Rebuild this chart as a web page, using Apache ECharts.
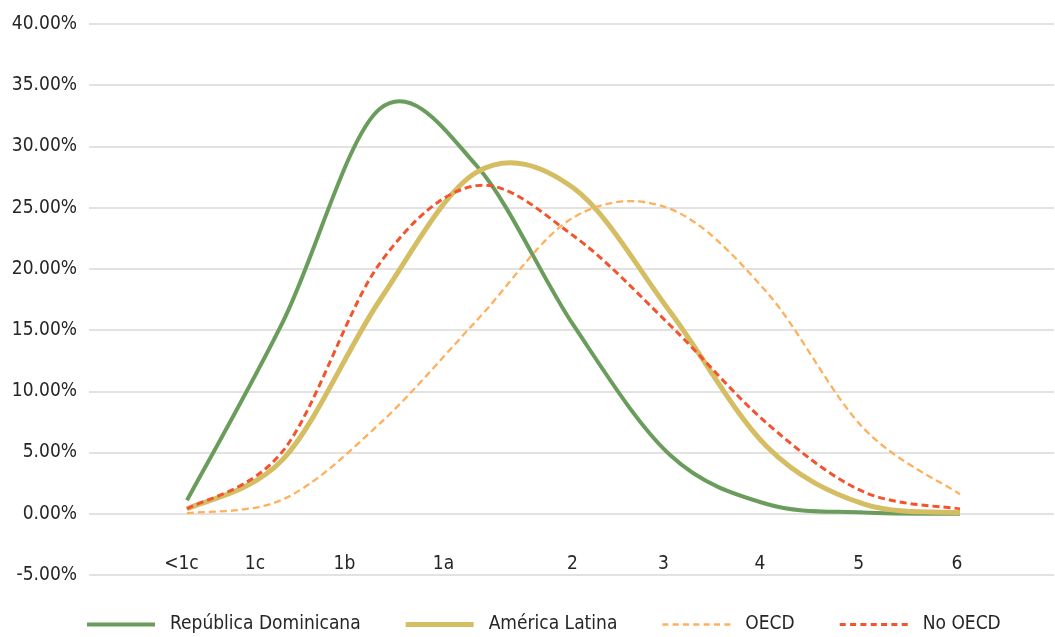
<!DOCTYPE html>
<html>
<head>
<meta charset="utf-8">
<script src="https://cdn.jsdelivr.net/npm/echarts@6/dist/echarts.min.js"></script>
<style>
  html, body { margin: 0; padding: 0; background: #fff; }
  #chart { width: 1055px; height: 637px; }
</style>
</head>
<body>
<div id="chart"></div>
<script>
  // niveles de desempeño
  const levels = ['<1c', '1c', '1b', '1a', '2', '3', '4', '5', '6']
  // porcentaje de estudiantes por nivel
  const repDominicana = [0.011, 0.158, 0.331, 0.284, 0.154, 0.048, 0.008, 0.001, 0.000]
  const americaLatina = [0.004, 0.045, 0.175, 0.279, 0.266, 0.165, 0.055, 0.008, 0.001]
  const oecd = [0.0005, 0.012, 0.074, 0.158, 0.242, 0.249, 0.181, 0.070, 0.016]
  const noOecd = [0.004, 0.052, 0.205, 0.268, 0.227, 0.154, 0.074, 0.018, 0.004]
  const yTicks = [-0.05, 0.40, 0.05]

  // donde caen las etiquetas del eje x (unidades del eje)
  const labelSlots = [-0.057, 0.704, 1.63, 2.655, 3.99, 4.931, 5.93, 6.952, 7.969]

  const font = "'DejaVu Sans Condensed', 'Liberation Sans Narrow', sans-serif"
  const fontSize = 19
  const toPoints = arr => arr.map((v, i) => [i, v])

  // curva suavizada tipo Excel (Catmull-Rom) sobre los puntos ya escalados
  function smoothPath (pts) {
    let d = 'M' + pts[0][0] + ',' + pts[0][1]
    for (let i = 0; i < pts.length - 1; i++) {
      const a = pts[Math.max(i - 1, 0)]
      const b = pts[i]
      const c = pts[i + 1]
      const e = pts[Math.min(i + 2, pts.length - 1)]
      const c1x = b[0] + (c[0] - a[0]) / 6
      const c1y = b[1] + (c[1] - a[1]) / 6
      const c2x = c[0] - (e[0] - b[0]) / 6
      const c2y = c[1] - (e[1] - b[1]) / 6
      d += ' C' + c1x + ',' + c1y + ' ' + c2x + ',' + c2y + ' ' + c[0] + ',' + c[1]
    }
    return d
  }

  function curveSeries (name, values, color, width, dash) {
    return {
      name: name,
      type: 'custom',
      coordinateSystem: 'cartesian2d',
      itemStyle: { color: color },
      encode: { x: 0, y: 1 },
      renderItem (params, api) {
        if (params.dataIndexInside !== 0) return null
        const pts = []
        for (let i = 0; i < params.dataInsideLength; i++) {
          pts.push(api.coord([api.value(0, i), api.value(1, i)]))
        }
        return {
          type: 'path',
          shape: { pathData: smoothPath(pts) },
          style: {
            fill: 'none',
            stroke: color,
            lineWidth: width,
            lineDash: dash || null,
            lineJoin: 'round'
          }
        }
      },
      data: toPoints(values)
    }
  }

  // iconos de leyenda: línea continua o discontinua de 68px
  function dashIcon (h) {
    let p = 'path://'
    for (let k = 0; k < 7; k++) {
      const x = k * 10.33
      p += 'M' + x + ',0h6v' + h + 'h-6z'
    }
    return p
  }

  const chart = echarts.init(document.getElementById('chart'))
  chart.setOption({
    animation: false,
    backgroundColor: '#fff',
    textStyle: { fontFamily: font },
    grid: { left: 89, right: 1, top: 24, bottom: 62, outerBoundsMode: 'none', containLabel: false },
    legend: {
      left: 87,
      top: 615,
      padding: 0,
      itemWidth: 68,
      itemHeight: 5,
      itemGap: 45,
      symbolKeepAspect: true,
      textStyle: { fontFamily: font, fontSize: fontSize, color: '#262626', padding: [0, 0, 0, 10] },
      data: [
        { name: 'República Dominicana', icon: 'path://M0,0h68v4h-68z', itemStyle: { color: '#6A9C5B' } },
        { name: 'América Latina', icon: 'rect', itemStyle: { color: '#D4BD62' } },
        { name: 'OECD', icon: dashIcon(2.3), itemStyle: { color: '#FFB05C' } },
        { name: 'No OECD', icon: dashIcon(3), itemStyle: { color: '#F2542D' } }
      ]
    },
    xAxis: {
      type: 'value',
      min: -1.014,
      max: 8.973,
      axisLine: { show: false, onZero: false },
      axisTick: { show: false },
      splitLine: { show: false },
      axisLabel: {
        inside: true,
        margin: 1,
        customValues: labelSlots,
        color: '#262626',
        fontFamily: font,
        fontSize: fontSize,
        formatter (v) {
          let best = 0
          labelSlots.forEach((s, i) => {
            if (Math.abs(s - v) < Math.abs(labelSlots[best] - v)) best = i
          })
          return levels[best]
        }
      }
    },
    yAxis: {
      type: 'value',
      min: yTicks[0],
      max: yTicks[1],
      interval: yTicks[2],
      axisLine: { show: false },
      axisTick: { show: false },
      splitLine: { lineStyle: { color: '#d9d9d9', width: 1.5 } },
      axisLabel: {
        margin: 12,
        color: '#262626',
        fontFamily: font,
        fontSize: fontSize,
        formatter (v) {
          return (v * 100).toFixed(2) + '%'
        }
      }
    },
    series: [
      curveSeries('República Dominicana', repDominicana, '#6A9C5B', 4),
      curveSeries('América Latina', americaLatina, '#D4BD62', 5),
      curveSeries('OECD', oecd, '#FFB05C', 2.3, [7, 4]),
      curveSeries('No OECD', noOecd, '#F2542D', 3, [7, 4])
    ]
  })
</script>
</body>
</html>
